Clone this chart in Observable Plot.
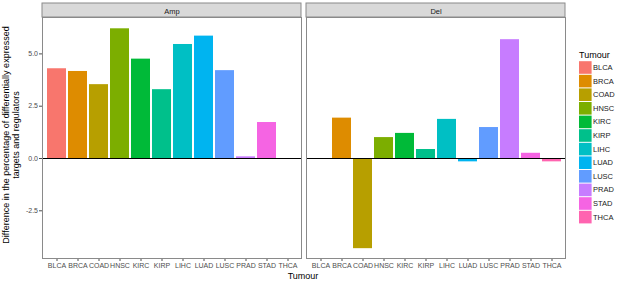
<!DOCTYPE html>
<html><head><meta charset="utf-8">
<script src="https://cdn.jsdelivr.net/npm/d3@7"></script>
<script src="https://cdn.jsdelivr.net/npm/@observablehq/plot@0.6"></script>
<style>
body{margin:0;background:#fff;font-family:"Liberation Sans",Arial,sans-serif;}
#wrap{position:relative;width:617px;height:284px;}
</style></head><body><div id="wrap"></div>
<script>
const tumours = ["BLCA","BRCA","COAD","HNSC","KIRC","KIRP","LIHC","LUAD","LUSC","PRAD","STAD","THCA"];
const panels = ["Amp","Del"];
const ampValues = [4.29,4.16,3.53,6.20,4.75,3.29,5.45,5.85,4.20,0.08,1.72,0];
const delValues = [0,1.93,-4.31,1.00,1.20,0.43,1.87,-0.16,1.48,5.68,0.25,-0.16];
const colours = ["#F8766D","#DE8C00","#B79F00","#7CAE00","#00BA38","#00C08B","#00BFC4","#00B4F0","#619CFF","#C77CFF","#F564E3","#FF64B0"];
const yTicks = [-2.5,0,2.5,5];
const yTitle = ["Difference in the percentage of differentially expressed","targets and regulators"];
const xTitle = "Tumour";
const legendTitle = "Tumour";

const data = [
  ...tumours.map((t,i)=>({panel:"Amp", tumour:t, value:ampValues[i]})),
  ...tumours.map((t,i)=>({panel:"Del", tumour:t, value:delValues[i]}))
];

const M = {top:17, right:52, bottom:26, left:41};
const chart = Plot.plot({
  width:617, height:284,
  marginLeft:M.left, marginRight:M.right, marginTop:M.top, marginBottom:M.bottom,
  style:{fontFamily:"'Liberation Sans', Arial, sans-serif", fontSize:"7px", color:"#4d4d4d", background:"#fff", overflow:"visible"},
  fx:{domain:panels, paddingInner:0.019, paddingOuter:0, axis:"top", label:null, tickSize:0, tickPadding:4},
  x:{domain:tumours, paddingInner:0.1, paddingOuter:0.15, label:null, tickSize:3, tickPadding:2},
  y:{domain:[-4.78,6.74], ticks:yTicks, tickFormat:d=>d.toFixed(1), label:null, tickSize:3, tickPadding:1.5},
  color:{domain:tumours, range:colours},
  marks:[
    Plot.barY(data, {fx:"panel", x:"tumour", y:"value", fill:"tumour"}),
    Plot.ruleY([0], {stroke:"#000", strokeWidth:1}),
    Plot.frame({stroke:"#8a8a8a"})
  ]
});
document.getElementById("wrap").append(chart);

const svg = d3.select(chart);
const fx = chart.scale("fx");
const color = chart.scale("color");
const bw = fx.bandwidth;
const strips = svg.insert("g", ":first-child");
panels.forEach(p => {
  strips.append("rect")
    .attr("x", fx.apply(p)).attr("y", 3)
    .attr("width", bw).attr("height", M.top - 3)
    .attr("fill", "#d9d9d9").attr("stroke", "#8a8a8a");
});
svg.selectAll('g[aria-label="fx-axis tick label"] text').attr("fill", "#1a1a1a").style("font-size","7.5px");

// axis titles
const yt = svg.append("text").attr("transform", "translate(0,135) rotate(-90)")
  .attr("text-anchor","middle").attr("fill","#000").style("font-size","9px");
yTitle.forEach((line,i)=> yt.append("tspan").attr("x",0).attr("y", 9 + i*10).text(line));
svg.append("text").attr("x", 303).attr("y", 279).attr("text-anchor","middle")
  .attr("fill","#000").style("font-size","9px").text(xTitle);

// legend
const lg = svg.append("g").attr("text-anchor","start");
lg.append("text").attr("x",579).attr("y",58).attr("text-anchor","start").attr("fill","#000").style("font-size","9px").text(legendTitle);
tumours.forEach((t,i)=>{
  const cy = 67.5 + i*13.6;
  lg.append("rect").attr("x",579).attr("y",cy-6.3).attr("width",12.6).attr("height",12.6).attr("fill",color.apply(t));
  lg.append("text").attr("x",593).attr("y",cy+2.5).attr("text-anchor","start").attr("fill","#1a1a1a").style("font-size","7.5px").text(t);
});
</script></body></html>
